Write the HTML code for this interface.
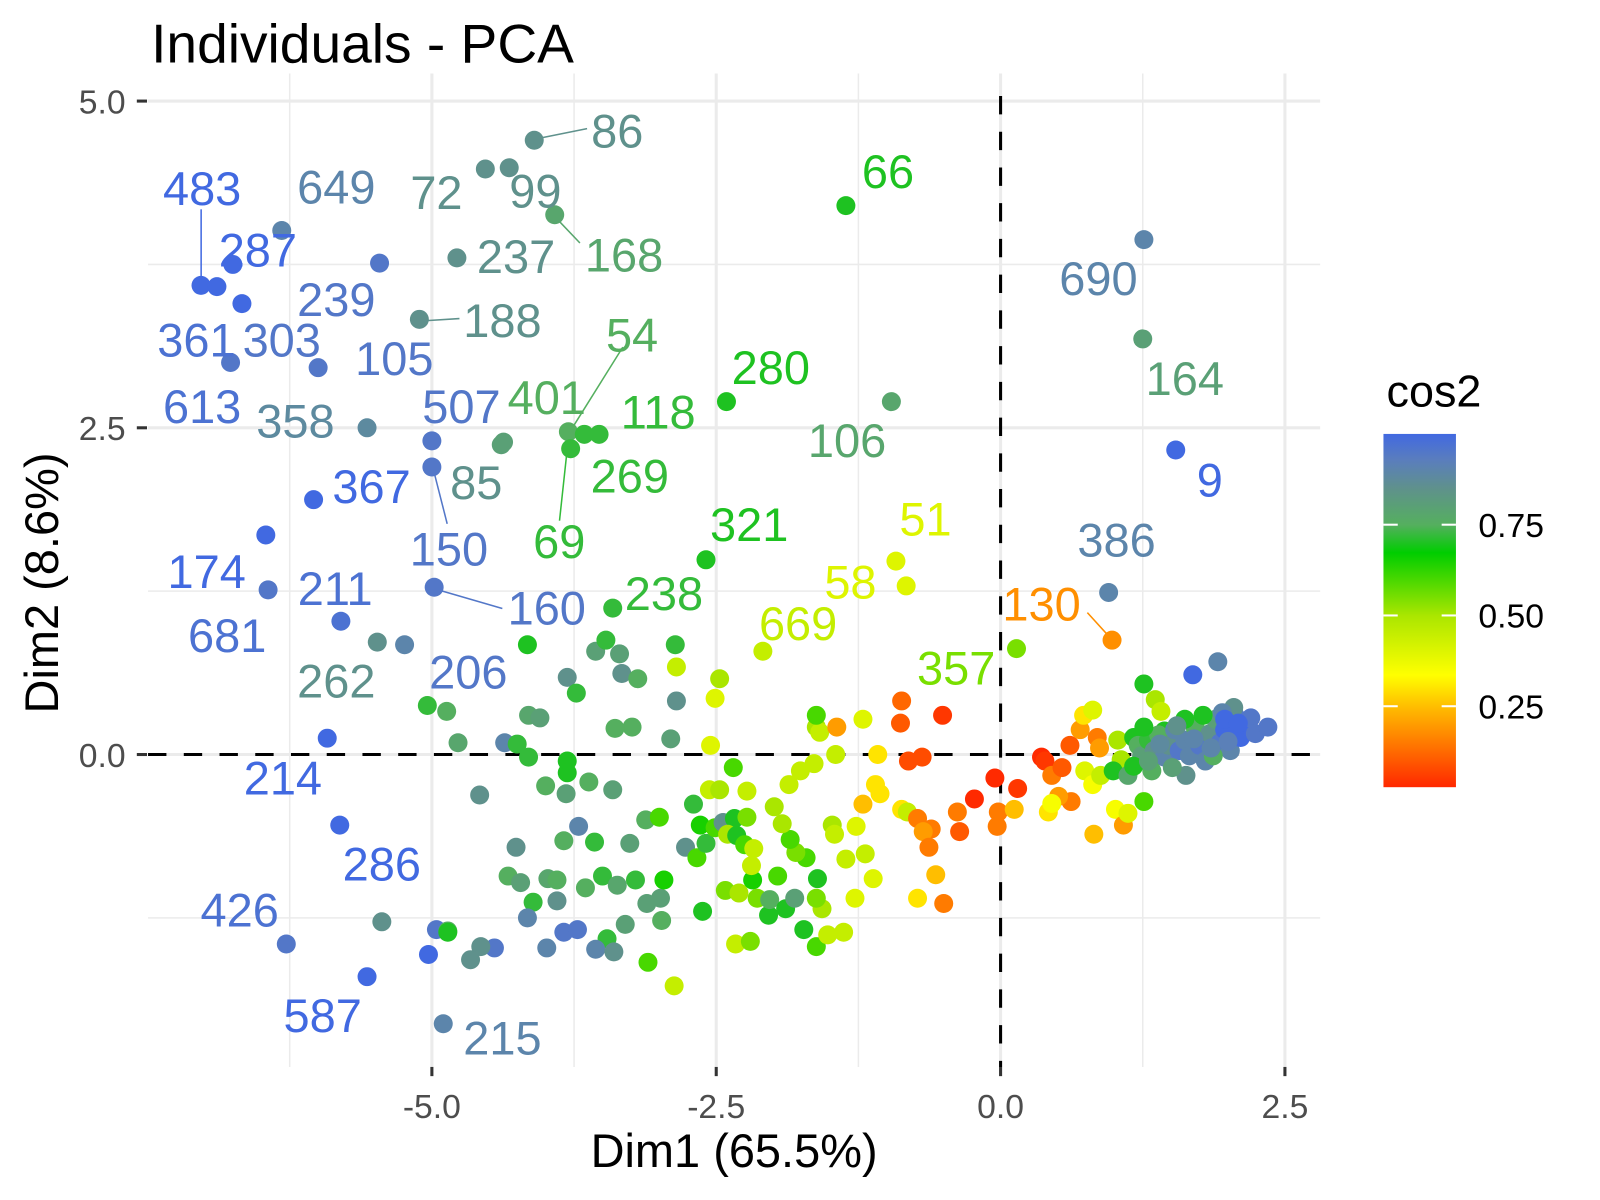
<!DOCTYPE html>
<html><head><meta charset="utf-8">
<style>
html,body{margin:0;padding:0;background:#fff;}
svg{display:block;font-family:"Liberation Sans",Arial,sans-serif;}
</style></head>
<body>
<svg id="chart" width="1600" height="1200" viewBox="0 0 1600 1200">
<defs><linearGradient id="lg" x1="0" y1="1" x2="0" y2="0">
<stop offset="0" stop-color="rgb(255,40,0)"/>
<stop offset="0.229" stop-color="rgb(255,190,0)"/>
<stop offset="0.317" stop-color="rgb(255,255,0)"/>
<stop offset="0.486" stop-color="rgb(170,230,0)"/>
<stop offset="0.664" stop-color="rgb(0,205,0)"/>
<stop offset="0.743" stop-color="rgb(85,175,95)"/>
<stop offset="0.846" stop-color="rgb(95,145,140)"/>
<stop offset="0.928" stop-color="rgb(90,125,190)"/>
<stop offset="1" stop-color="rgb(65,105,225)"/></linearGradient></defs>
<g transform="scale(1.021)">
<text x="148" y="61" font-size="54" fill="#000">Individuals - PCA</text>
<g id="grid"></g>
<g id="axes"></g>
<g id="leaders"></g>
<g id="points"></g>
<g id="labels"></g>
<text x="719" y="1143" font-size="46" text-anchor="middle" fill="#000">Dim1 (65.5%)</text>
<text transform="translate(57,571) rotate(-90)" font-size="46" text-anchor="middle" fill="#000">Dim2 (8.6%)</text>
<g>
<text x="1358" y="398" font-size="44" fill="#000">cos2</text>
<rect x="1355" y="425" width="71" height="346" fill="url(#lg)"/>
<g id="legticks"></g>
</g>
</g>
</svg>
<script>
const pointsDim1 = [];
const pointsDim2 = [];
const pointsCos2 = [];
const raw = [
[-4.10,4.70,.85],[-4.53,4.48,.85],[-4.32,4.49,.85],[-1.36,4.20,.70],[-6.32,4.01,.90],[-3.92,4.13,.78],[-4.78,3.80,.85],
[-7.03,3.59,1],[-6.75,3.75,1],[-6.89,3.58,1],[-6.67,3.45,1],[-5.46,3.76,.95],[-5.11,3.33,.85],[1.26,3.94,.9],[1.25,3.18,.8],
[-6.77,3.0,.95],[-6.0,2.96,.95],[-2.41,2.70,.7],[-0.96,2.70,.78],[-5.57,2.50,.88],[-3.80,2.47,.75],[-3.66,2.45,.72],[-3.53,2.45,.72],
[-3.78,2.34,.72],[-4.37,2.39,.8],[-4.39,2.37,.8],[-5.0,2.40,.95],[-5.0,2.20,.95],[1.54,2.33,1],[-6.04,1.95,1],[-6.46,1.68,1],
[-2.59,1.49,.7],[-0.92,1.48,.4],[-0.83,1.29,.4],[-6.44,1.26,.95],[-4.98,1.28,.95],[0.95,1.24,.9],[-3.41,1.12,.72],[-5.80,1.02,.97],
[0.98,0.875,.18],[-2.09,0.79,.45],[0.14,0.81,.55],[-5.48,0.86,.85],[-5.24,0.84,.9],[-5.92,0.125,1],[-5.81,-0.54,1],[-6.28,-1.45,.95],
[-5.57,-1.70,1],[-4.90,-2.06,.9],[-5.44,-1.28,.85],[-5.03,-1.53,1],[-4.96,-1.34,.95],[-4.86,-1.35,.75],
[-4.16,0.84,.7],[-3.81,0.59,.85],[-3.56,0.79,.8],[-3.47,0.875,.72],[-3.35,0.77,.8],[-3.33,0.62,.85],[-3.19,0.58,.75],[-2.86,0.84,.72],
[-2.85,0.67,.45],[-2.85,0.41,.85],[-2.90,0.12,.8],[-3.24,0.21,.75],[-3.39,0.20,.75],[-3.73,0.47,.72],[-4.15,0.30,.78],[-4.05,0.28,.8],
[-5.04,0.375,.72],[-4.87,0.33,.75],[-4.77,0.09,.78],[-4.36,0.09,.9],[-4.25,0.08,.72],[-4.15,-0.02,.72],[-3.81,-0.05,.7],[-3.81,-0.14,.7],
[-3.62,-0.21,.75],[-3.41,-0.27,.8],[-4.0,-0.24,.75],[-3.82,-0.30,.8],[-4.58,-0.31,.85],[-3.71,-0.55,.9],[-3.84,-0.66,.75],[-4.26,-0.71,.85],
[-3.57,-0.67,.72],[-3.26,-0.68,.8],[-3.12,-0.50,.75],[-3.0,-0.48,.6],[-4.33,-0.93,.75],[-4.22,-0.98,.8],[-4.11,-1.13,.72],[-3.98,-0.95,.78],
[-3.9,-0.96,.75],[-3.9,-1.12,.85],[-3.65,-1.02,.75],[-3.50,-0.93,.72],[-3.37,-1.0,.78],[-3.21,-0.96,.72],[-3.11,-1.14,.8],[-2.99,-1.10,.8],
[-2.96,-0.96,.65],[-3.84,-1.36,.95],[-3.72,-1.34,.95],[-3.46,-1.41,.72],[-3.56,-1.49,.9],[-3.40,-1.51,.85],[-3.30,-1.30,.8],[-3.10,-1.59,.6],
[-2.87,-1.77,.45],[-2.98,-1.27,.75],[-3.99,-1.48,.9],[-4.16,-1.25,.9],[-4.45,-1.48,.95],[-4.57,-1.47,.85],[-4.66,-1.57,.85],[-4.86,-1.36,.7],
[-2.70,-0.38,.72],[-2.64,-0.54,.65],[-2.77,-0.71,.85],[-2.67,-0.79,.6],[-2.59,-0.68,.72],[-2.51,-0.56,.6],[-2.44,-0.52,.85],[-2.35,-0.10,.6],
[-2.34,-0.49,.7],[-2.40,-0.61,.5],[-2.32,-0.62,.7],[-2.25,-0.69,.6],[-2.23,-0.48,.55],[-2.17,-0.72,.45],[-2.56,-0.27,.45],[-2.47,-0.27,.5],
[-2.23,-0.28,.45],[-2.55,0.07,.4],[-2.51,0.43,.4],[-2.47,0.58,.5],[-2.62,-1.20,.7],[-2.42,-1.04,.55],[-2.30,-1.06,.5],[-2.18,-0.96,.65],
[-2.14,-1.10,.55],[-2.19,-0.85,.45],[-2.33,-1.45,.45],[-2.20,-1.43,.55],[-2.04,-1.23,.7],[-2.03,-1.11,.75],[-1.96,-0.93,.6],[-1.89,-1.18,.7],
[-1.81,-1.10,.8],[-1.73,-1.34,.7],[-1.62,-1.47,.6],[-1.52,-1.38,.45],[-1.38,-1.36,.45],[-1.57,-1.18,.5],[-1.62,-1.10,.55],[-1.61,-0.95,.7],
[-1.71,-0.79,.6],[-1.80,-0.75,.55],[-1.85,-0.65,.6],[-1.92,-0.53,.5],[-1.99,-0.40,.5],[-1.86,-0.23,.45],[-1.76,-0.125,.45],[-1.64,-0.07,.45],
[-1.48,-0.54,.5],[-1.46,-0.61,.45],[-1.36,-0.80,.45],[-1.27,-0.55,.4],[-1.19,-0.76,.45],[-1.12,-0.95,.4],[-1.28,-1.10,.4],[-1.45,0.0,.45],
[-1.62,0.21,.5],[-1.59,0.17,.45],[-1.62,0.30,.6],[-1.44,0.21,.2],[-1.21,0.27,.4],[-1.08,0.0,.3],[-1.10,-0.23,.3],[-1.06,-0.30,.3],
[-1.21,-0.38,.25],[-0.87,-0.42,.3],[-0.82,-0.44,.45],[-0.87,0.41,.12],[-0.88,0.24,.1],[-0.51,0.30,.05],[-0.81,-0.05,.08],[-0.69,-0.02,.08],
[-0.73,-0.49,.15],[-0.61,-0.57,.15],[-0.68,-0.59,.2],[-0.63,-0.71,.15],[-0.57,-0.92,.25],[-0.73,-1.10,.3],[-0.50,-1.14,.15],[-0.36,-0.59,.1],
[-0.38,-0.44,.15],[-0.23,-0.34,.03],[-0.05,-0.18,.03],[0.15,-0.26,.05],[-0.02,-0.44,.15],[-0.03,-0.55,.15],[0.12,-0.42,.25],[0.36,-0.02,.03],
[0.39,-0.05,.05],[0.45,-0.16,.15],[0.54,-0.10,.1],[0.61,0.07,.1],[0.70,0.19,.2],[0.73,0.30,.3],[0.81,0.34,.4],[0.85,0.13,.15],
[0.87,0.05,.2],[0.74,-0.125,.4],[0.81,-0.23,.35],[0.88,-0.16,.45],[0.62,-0.36,.15],[0.51,-0.32,.2],[0.42,-0.44,.3],[0.45,-0.375,.35],
[0.82,-0.61,.25],[1.01,-0.42,.35],[1.08,-0.54,.2],[1.12,-0.45,.4],[1.26,-0.36,.6],[1.06,-0.04,.5],[1.03,0.11,.5],[0.99,-0.125,.7],
[1.12,-0.16,.78],[1.26,0.54,.7],[1.36,0.42,.5],[1.41,0.33,.45],[1.44,0.18,.7],[1.69,0.61,1],[1.91,0.71,.9],
[1.17,0.13,.7],[1.21,0.07,.75],[1.24,-0.01,.8],[1.30,0.11,.72],[1.35,0.03,.85],[1.39,0.15,.75],[1.44,-0.02,.9],[1.48,0.07,.85],
[1.53,0.19,.9],[1.57,0.03,.95],[1.62,0.11,.9],[1.66,-0.01,.9],[1.71,0.21,.75],[1.75,0.07,.95],[1.80,-0.05,.9],[1.84,0.16,.85],
[1.89,0.27,.8],[1.93,0.09,.95],[1.97,0.19,1],[2.02,0.03,.9],[2.06,0.30,.95],[2.11,0.13,1],[2.15,0.23,1],[2.20,0.28,.95],
[2.24,0.16,.95],[2.35,0.21,.95],[2.05,0.36,.85],[1.95,0.32,.9],[1.87,-0.01,.75],[1.63,-0.16,.85],[1.51,-0.10,.8],[1.33,-0.125,.75],
[1.17,-0.09,.7],[1.26,0.21,.7],[1.62,0.27,.7],[1.78,0.30,.7],[1.97,0.27,1],[2.09,0.24,1],[1.55,0.22,.85],[1.70,0.12,.9],
[1.40,0.08,.88],[1.85,0.05,.9],[2.00,0.10,.92],[1.30,-0.05,.8]
];
raw.forEach(r=>{pointsDim1.push(r[0]);pointsDim2.push(r[1]);pointsCos2.push(r[2]);});

const labelTexts = ["483","649","72","99","86","66","287","237","168","690","239","188","361","303","54","105","280","164","613","507","401","118","358","106","9","269","367","85","51","321","69","386","150","174","58","211","238","130","160","669","681","357","206","262","214","286","426","587","215"];
const labelDim1 = [-7.02,-5.84,-4.96,-4.09,-3.37,-0.99,-6.53,-4.26,-3.31,0.86,-5.84,-4.38,-7.07,-6.32,-3.24,-5.33,-2.02,1.62,-7.02,-4.74,-3.99,-3.01,-6.20,-1.35,1.84,-3.26,-5.53,-4.61,-0.66,-2.21,-3.88,1.02,-4.85,-6.98,-1.32,-5.85,-2.96,0.36,-3.99,-1.78,-6.80,-0.39,-4.68,-5.84,-6.31,-5.44,-6.69,-5.96,-4.38];
const labelDim2 = [4.33,4.34,4.30,4.31,4.77,4.46,3.86,3.81,3.82,3.64,3.48,3.32,3.17,3.17,3.21,3.03,2.96,2.875,2.66,2.66,2.73,2.62,2.55,2.40,2.10,2.13,2.05,2.08,1.80,1.76,1.63,1.64,1.57,1.40,1.32,1.27,1.23,1.15,1.12,1.0,0.91,0.66,0.63,0.56,-0.18,-0.84,-1.19,-2.0,-2.17];
const labelCos2 = [1,.9,.85,.85,.85,.7,1,.85,.78,.9,.95,.85,.97,.95,.75,.95,.7,.8,.97,.95,.75,.72,.88,.78,1,.72,1,.85,.4,.7,.72,.9,.95,1,.4,.97,.72,.18,.95,.45,.97,.55,.95,.85,1,1,.97,1,.9];

const xTicks = [-5.0,-2.5,0.0,2.5];
const yTicks = [0.0,2.5,5.0];
const legendTicks = [0.25,0.50,0.75];

const ns="http://www.w3.org/2000/svg";
const L=145,R=1293,T=72,B=1045;
const xs=v=>980+v*111.4;
const ys=v=>739-v*128;
const cmin=0.027,cmax=1;
const cstops=[[0.027,[255,40,0]],[0.25,[255,190,0]],[0.335,[255,255,0]],[0.5,[170,230,0]],[0.673,[0,205,0]],[0.75,[85,175,95]],[0.85,[95,145,140]],[0.93,[90,125,190]],[1.0,[65,105,225]]];
function col(c){c=Math.max(cmin,Math.min(cmax,c));
 for(let i=0;i<cstops.length-1;i++){const a=cstops[i],b=cstops[i+1];
  if(c<=b[0]){const f=(c-a[0])/(b[0]-a[0]);return `rgb(${a[1].map((v,k)=>Math.round(v+(b[1][k]-v)*f)).join(',')})`;}}
 return 'rgb(65,105,225)';}
function mk(tag,attrs,parent){const e=document.createElementNS(ns,tag);for(const k in attrs)e.setAttribute(k,attrs[k]);parent.appendChild(e);return e;}

const grid=document.getElementById('grid');
[-6.25,-3.75,-1.25,1.25].forEach(v=>{const e=mk('line',{x1:xs(v),x2:xs(v),y1:T,y2:B,stroke:'#ebebeb','stroke-width':1.5},grid);

});
[-1.25,1.25,3.75].forEach(v=>{const e=mk('line',{x1:L,x2:R,y1:ys(v),y2:ys(v),stroke:'#ebebeb','stroke-width':1.5},grid);

});
xTicks.forEach(v=>{const e=mk('line',{x1:xs(v),x2:xs(v),y1:T,y2:B,stroke:'#ebebeb','stroke-width':3},grid);

});
yTicks.forEach(v=>{const e=mk('line',{x1:L,x2:R,y1:ys(v),y2:ys(v),stroke:'#ebebeb','stroke-width':3},grid);

});

const axes=document.getElementById('axes');
xTicks.forEach(v=>{const t=mk('line',{x1:xs(v),x2:xs(v),y1:B,y2:B+9,stroke:'#333','stroke-width':3},axes);


const s=mk('text',{x:xs(v),y:B+50,'font-size':33,'text-anchor':'middle',fill:'#4d4d4d'},axes);s.textContent=v.toFixed(1);

});
yTicks.forEach(v=>{const t=mk('line',{x1:L-11,x2:L-1,y1:ys(v),y2:ys(v),stroke:'#333','stroke-width':3},axes);


const s=mk('text',{x:L-22,y:ys(v)+12,'font-size':33,'text-anchor':'end',fill:'#4d4d4d'},axes);s.textContent=v.toFixed(1);

});
const h0=mk('line',{x1:L,x2:R,y1:ys(0),y2:ys(0),stroke:'#000','stroke-width':3,'stroke-dasharray':'18 17'},axes);


const v0=mk('line',{x1:xs(0),x2:xs(0),y1:T+22,y2:B,stroke:'#000','stroke-width':3,'stroke-dasharray':'18 17'},axes);



const pts=document.getElementById('points');
pointsDim1.forEach((x,i)=>{const c=mk('circle',{cx:xs(x),cy:ys(pointsDim2[i]),r:9.3,fill:col(pointsCos2[i])},pts);

});

const lead=document.getElementById('leaders');
[[197,205,197,275,1],[530,135,575,126,.85],[548,217,568,238,.78],[418,314,450,312,.85],[560,420,610,340,.75],[555,445,548,510,.72],[425,462,438,513,.95],[430,578,492,596,.95],[1065,600,1085,622,.18]].forEach(l=>{
const e=mk('line',{x1:l[0],y1:l[1],x2:l[2],y2:l[3],stroke:col(l[4]),'stroke-width':1.5},lead);

});

const lab=document.getElementById('labels');
labelTexts.forEach((t,i)=>{const s=mk('text',{x:xs(labelDim1[i]),y:ys(labelDim2[i])+16,'font-size':46,'text-anchor':'middle',fill:col(labelCos2[i])},lab);s.textContent=t;

});

const lt=document.getElementById('legticks');
legendTicks.forEach(v=>{const y=771-(v-cmin)/(cmax-cmin)*346;
mk('line',{x1:1355,x2:1369,y1:y,y2:y,stroke:'#fff','stroke-width':2},lt);
mk('line',{x1:1412,x2:1426,y1:y,y2:y,stroke:'#fff','stroke-width':2},lt);
const s=mk('text',{x:1448,y:y+12,'font-size':33,fill:'#000'},lt);s.textContent=v.toFixed(2);

});
</script>
</body></html>
